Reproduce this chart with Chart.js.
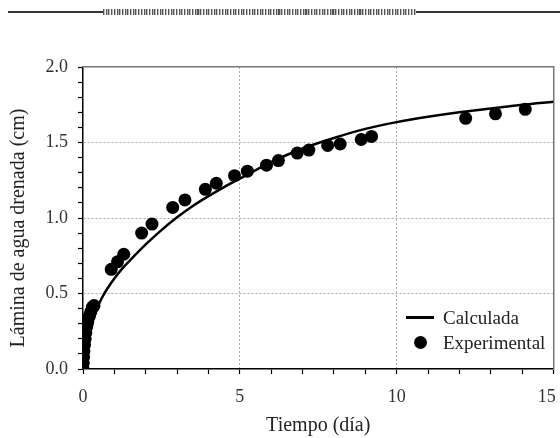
<!DOCTYPE html>
<html>
<head>
<meta charset="utf-8">
<script src="https://cdn.jsdelivr.net/npm/chart.js@4.4.1/dist/chart.umd.min.js"></script>
<style>
  html, body { margin: 0; padding: 0; background: #fff; }
  #wrap { position: relative; width: 560px; height: 438px; font-family: "Liberation Serif", serif; color: #222; }
  #topRule { position: absolute; left: 8px; right: 0; top: 11px; height: 1.5px; background: #333; }
  #topHatch { position: absolute; left: 103px; width: 313px; top: 9px; height: 6px;
    background: repeating-linear-gradient(90deg, #555 0 1px, #bbb 1px 2px, #fff 2px 2.7px); }
  #legend { position: absolute; left: 404px; top: 305px; font-size: 19px; line-height: 25px; }
  #legend .row { display: flex; align-items: center; height: 25px; }
  #legend .sym { width: 30px; height: 25px; position: relative; margin-right: 9px; }
  #legend .line { position: absolute; left: 2px; right: 0; top: 11px; height: 2.5px; background: #000; }
  #legend .dot { position: absolute; left: 10px; top: 6px; width: 13px; height: 13px; border-radius: 50%; background: #000; }
</style>
</head>
<body>
<div id="wrap">
  <div id="topRule"></div>
  <div id="topHatch"></div>
  <canvas id="drainChart" width="560" height="438"></canvas>
  <div id="legend"></div>
</div>
<script>
  // curva calculada
  const calcT = [0, 0.02, 0.05, 0.1, 0.2, 0.3, 0.45, 0.6, 0.8, 1, 1.25, 1.5, 2, 2.5, 3, 3.5, 4, 4.5, 5, 6, 7, 8, 9, 10, 11, 12, 13, 14, 15];
  const calcY = [0, 0.06, 0.11, 0.16, 0.24, 0.31, 0.40, 0.47, 0.54, 0.60, 0.665, 0.72, 0.825, 0.92, 1.005, 1.08, 1.145, 1.205, 1.26, 1.37, 1.46, 1.53, 1.59, 1.635, 1.67, 1.70, 1.725, 1.75, 1.77];

  // puntos experimentales
  const expT = [0, 0.01, 0.02, 0.03, 0.05, 0.07, 0.09, 0.12, 0.15, 0.2, 0.25, 0.3, 0.35, 0.9, 1.1, 1.3, 1.87, 2.2, 2.86, 3.25, 3.9, 4.25, 4.83, 5.24, 5.85, 6.23, 6.83, 7.2, 7.8, 8.2, 8.87, 9.2, 12.2, 13.15, 14.1];
  const expY = [0, 0.04, 0.08, 0.12, 0.16, 0.2, 0.24, 0.28, 0.31, 0.35, 0.38, 0.41, 0.42, 0.66, 0.71, 0.76, 0.90, 0.96, 1.07, 1.12, 1.19, 1.23, 1.28, 1.31, 1.35, 1.38, 1.43, 1.45, 1.48, 1.49, 1.52, 1.54, 1.66, 1.69, 1.72];

  const xLabeled = [0, 5, 10, 15];
  const yLabeled = [0, 0.5, 1.0, 1.5, 2.0];
  const xGrid = [5, 10];
  const yGrid = [0.5, 1.0, 1.5];

  const near = (v, list) => list.some(a => Math.abs(a - v) < 1e-6);
  const tickFont = { family: 'Liberation Serif', size: 18 };
  const titleFont = { family: 'Liberation Serif', size: 20 };

  // fija el tamaño de cada eje y quita el margen extra de las etiquetas
  const fixSize = (w, h) => s => {
    if (w != null) s.width = w;
    if (h != null) s.height = h;
    s.paddingLeft = 0; s.paddingRight = 0; s.paddingTop = 0; s.paddingBottom = 0;
  };

  const ctx = document.getElementById('drainChart');
  const chart = new Chart(ctx, {
    data: {
      datasets: [{
        type: 'line',
        label: 'Calculada',
        data: calcT.map((t, i) => ({ x: t, y: calcY[i] })),
        borderColor: '#000',
        borderWidth: 2.5,
        pointRadius: 0,
        fill: false,
        cubicInterpolationMode: 'monotone',
        order: 2
      }, {
        type: 'scatter',
        label: 'Experimental',
        data: expT.map((t, i) => ({ x: t, y: expY[i] })),
        backgroundColor: '#000',
        borderColor: '#000',
        borderWidth: 0,
        pointRadius: 6.5,
        order: 1
      }]
    },
    options: {
      responsive: false,
      animation: false,
      layout: { padding: 0 },
      plugins: {
        legend: { display: false },
        tooltip: { enabled: false }
      },
      scales: {
        x: {
          type: 'linear',
          position: 'bottom',
          min: 0,
          max: 15,
          afterFit: fixSize(null, 69),
          border: { color: '#000', width: 1.5, dash: [2, 2] },
          grid: {
            color: c => near(c.tick.value, xGrid) ? '#aaa' : 'rgba(0,0,0,0)',
            lineWidth: 1,
            tickColor: '#000',
            tickLength: 5,
            tickWidth: 1.2
          },
          ticks: {
            stepSize: 1,
            autoSkip: false,
            maxRotation: 0,
            padding: 12,
            color: '#333',
            font: tickFont,
            // el último rótulo se corre un poco para que quepa
            callback: v => !near(v, xLabeled) ? '' : (v === 15 ? '15\u2007 ' : String(v))
          },
          title: { display: true, text: 'Tiempo (día)', color: '#222', font: titleFont, padding: { top: 0, bottom: 0 } }
        },
        y: {
          type: 'linear',
          position: 'left',
          min: 0,
          max: 2,
          afterFit: fixSize(83, null),
          border: { color: '#000', width: 1.5, dash: [2, 2] },
          grid: {
            color: c => near(c.tick.value, yGrid) ? '#aaa' : 'rgba(0,0,0,0)',
            lineWidth: 1,
            tickColor: '#000',
            tickLength: 5,
            tickWidth: 1.2
          },
          ticks: {
            stepSize: 0.1,
            autoSkip: false,
            padding: 10,
            color: '#333',
            font: tickFont,
            callback: v => near(v, yLabeled) ? v.toFixed(1) : ''
          },
          title: { display: true, text: 'Lámina de agua drenada (cm)\u2002\u2002', color: '#222', font: titleFont, padding: { top: 7, bottom: 0 } }
        },
        xTop: {
          type: 'linear',
          position: 'top',
          min: 0,
          max: 15,
          afterFit: fixSize(null, 67),
          border: { color: '#777', width: 1.5 },
          grid: { drawOnChartArea: false, drawTicks: false },
          ticks: { display: false }
        },
        yRight: {
          type: 'linear',
          position: 'right',
          min: 0,
          max: 2,
          afterFit: fixSize(5, null),
          border: { color: '#777', width: 1.5 },
          grid: { drawOnChartArea: false, drawTicks: false },
          ticks: { display: false }
        }
      }
    }
  });

  // leyenda dentro del área del gráfico
  const legendBox = document.getElementById('legend');
  chart.data.datasets.forEach(ds => {
    const row = document.createElement('div');
    row.className = 'row';
    const sym = document.createElement('span');
    sym.className = 'sym';
    const mark = document.createElement('span');
    mark.className = ds.type === 'line' ? 'line' : 'dot';
    sym.appendChild(mark);
    const txt = document.createElement('span');
    txt.textContent = ds.label;
    row.appendChild(sym);
    row.appendChild(txt);
    legendBox.appendChild(row);
  });
</script>
</body>
</html>
